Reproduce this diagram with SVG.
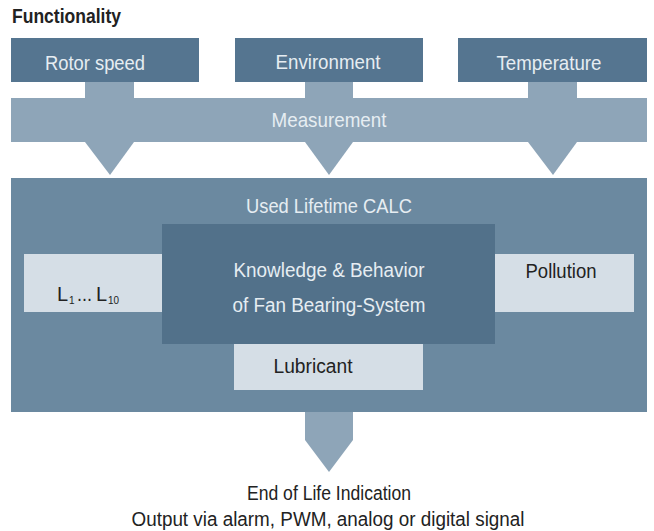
<svg xmlns="http://www.w3.org/2000/svg" width="654" height="531" viewBox="0 0 654 531">
<style>
text{font-family:"Liberation Sans",Arial,sans-serif;text-anchor:middle}
.top{fill:#557590}
.lt{fill:#e6edf2;font-size:21px}
.dk{fill:#222;font-size:20px}
.meas{fill:#8ea5b8}
.calc{fill:#6b89a0}
.core{fill:#52718a}
.pale{fill:#d5dee6}
.conn{fill:#8ea5b8}
.st{text-anchor:start}
.sub{font-size:10px}
</style>
<rect width="654" height="531" fill="#fff"/>
<text x="12" y="23" textLength="109" lengthAdjust="spacingAndGlyphs" style="text-anchor:start;font-weight:bold;font-size:20px;fill:#222">Functionality</text>
<g id="connectors">
<rect class="conn" x="85" y="82" width="49" height="17"/>
<rect class="conn" x="305" y="82" width="48" height="17"/>
<rect class="conn" x="528" y="82" width="49" height="17"/>
<polygon class="conn" points="85,142 134,142 110,175"/>
<polygon class="conn" points="305,142 353,142 329,175"/>
<polygon class="conn" points="528,142 577,142 553,175"/>
<polygon class="conn" points="305,412 353,412 353,440 329,472 305,440"/>
</g>
<g id="rotor"><rect class="top" x="11" y="38" width="188" height="44"/><text class="lt" x="95" y="70" textLength="100" lengthAdjust="spacingAndGlyphs">Rotor speed</text></g>
<g id="environment"><rect class="top" x="235" y="38" width="188" height="44"/><text class="lt" x="328" y="69" textLength="105" lengthAdjust="spacingAndGlyphs">Environment</text></g>
<g id="temperature"><rect class="top" x="458" y="38" width="189" height="44"/><text class="lt" x="549" y="70" textLength="105" lengthAdjust="spacingAndGlyphs">Temperature</text></g>
<g id="measurement"><rect class="meas" x="11" y="98" width="636" height="44"/><text class="lt" x="329" y="127" textLength="115" lengthAdjust="spacingAndGlyphs">Measurement</text></g>
<g id="calc"><rect class="calc" x="11" y="178" width="636" height="234"/><text class="lt" x="329" y="213" textLength="166" lengthAdjust="spacingAndGlyphs">Used Lifetime CALC</text></g>
<g id="lvalues"><rect class="pale" x="24" y="254" width="138" height="58"/>
<text class="dk st" x="57" y="301">L</text><text class="dk st sub" x="69" y="304">1</text><text class="dk st" x="77" y="301" textLength="15" lengthAdjust="spacingAndGlyphs">...</text><text class="dk st" x="96" y="301">L</text><text class="dk st sub" x="108" y="304" textLength="11" lengthAdjust="spacingAndGlyphs">10</text></g>
<g id="pollution"><rect class="pale" x="495" y="254" width="139" height="58"/><text class="dk" x="561" y="278" textLength="71" lengthAdjust="spacingAndGlyphs">Pollution</text></g>
<g id="lubricant"><rect class="pale" x="234" y="344" width="189" height="46"/><text class="dk" x="313" y="373" textLength="79" lengthAdjust="spacingAndGlyphs">Lubricant</text></g>
<g id="knowledge"><rect class="core" x="162" y="224" width="333" height="120"/><text class="lt" x="329" y="277" style="font-size:20px" textLength="191" lengthAdjust="spacingAndGlyphs">Knowledge &amp; Behavior</text><text class="lt" x="329" y="312" style="font-size:20px" textLength="193" lengthAdjust="spacingAndGlyphs">of Fan Bearing-System</text></g>
<g id="output"><text class="dk" x="329" y="500" textLength="164" lengthAdjust="spacingAndGlyphs">End of Life Indication</text><text class="dk" x="328" y="526" textLength="393" lengthAdjust="spacingAndGlyphs">Output via alarm, PWM, analog or digital signal</text></g>
</svg>
